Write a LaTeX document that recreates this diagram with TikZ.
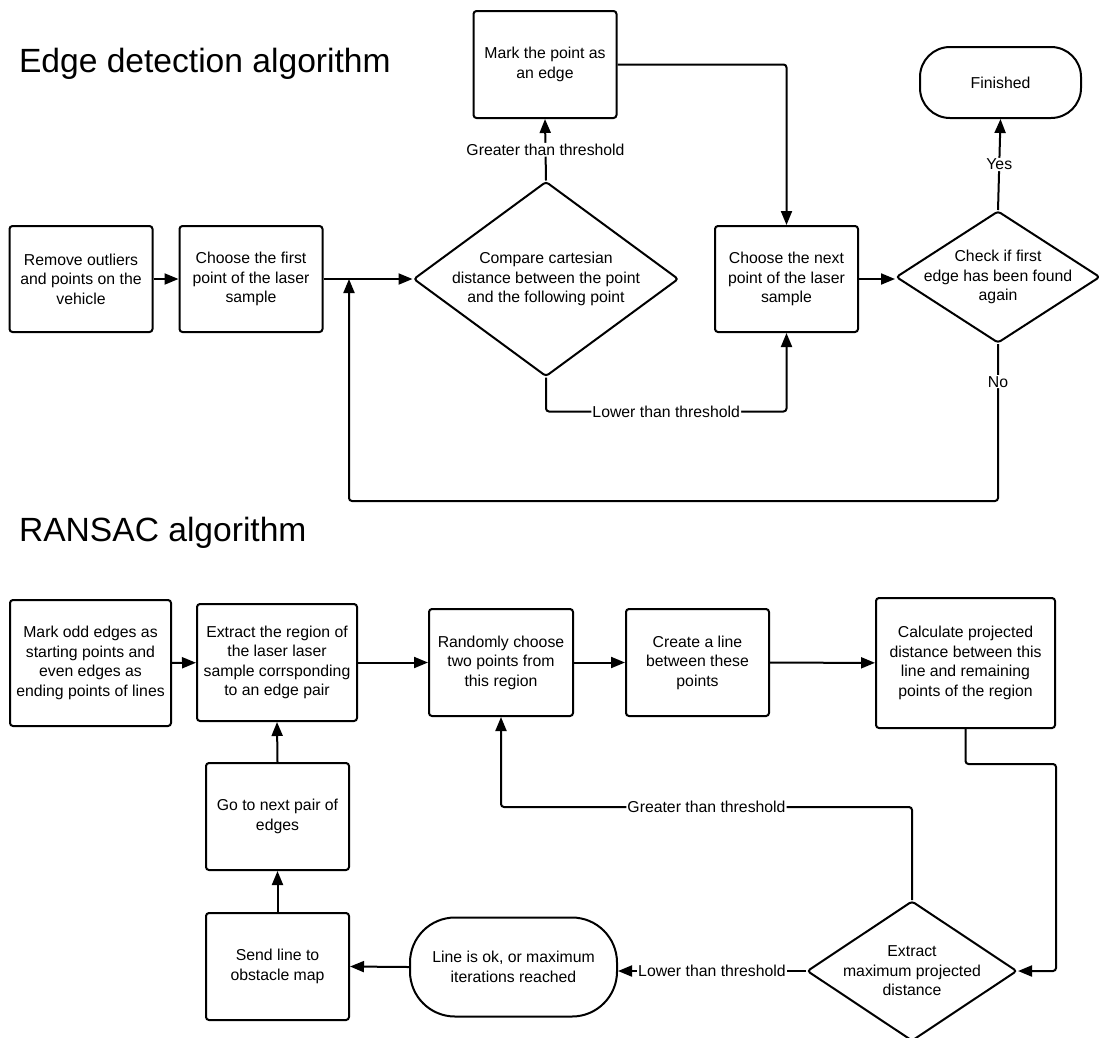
\documentclass[tikz,border=0pt]{standalone}
\usepackage{fontspec}
\setmainfont{Liberation Sans}
\usetikzlibrary{arrows.meta, shapes.geometric, calc}

\begin{document}
\begin{tikzpicture}[
        x=1pt, y=-1pt,
        box/.style={draw, align=center, font=\fontsize{15.8}{19.4}\selectfont},
        decision/.style={draw, diamond, inner sep=0pt},
        terminal/.style={draw, align=center, font=\fontsize{15.8}{19.4}\selectfont},
        txt/.style={align=center, font=\fontsize{15.8}{19.4}\selectfont},
        lbl/.style={fill=white, inner sep=1pt, font=\fontsize{15.8}{19.4}\selectfont},
        title/.style={anchor=base west, inner sep=0pt, font=\fontsize{33.6}{40}\selectfont},
        ->, >={Triangle[length=14pt, width=11pt]}, line width=2pt, rounded corners=3pt
    ]
\useasboundingbox (0,0) rectangle (1099,1037);

% Headings
\node[title] (T1) at (18,72) {Edge detection algorithm};
\node[title] (T2) at (18,541) {RANSAC algorithm};

% Edge detection: first row
\node[box, minimum width=143, minimum height=106] (R1) at (81,279) {Remove outliers\\and points on the\\vehicle};
\node[box, minimum width=143, minimum height=106] (C1) at (251,279) {Choose the first\\point of the laser\\sample};
\node[decision, minimum width=265, minimum height=195,
      label={[txt]center:Compare cartesian\\distance between the point\\and the following point}] (D1) at (546,279) {};
\node[box, minimum width=143, minimum height=107] (M1) at (545,64.5) {Mark the point as\\an edge};
\node[box, minimum width=143, minimum height=106] (N1) at (786.5,279) {Choose the next\\point of the laser\\sample};
\node[decision, minimum width=204, minimum height=132,
      label={[txt]center:Check if first\\edge has been found\\again}] (D2) at (998,277) {};
\node[terminal, rounded corners=30pt, minimum width=161, minimum height=71] (F1) at (1000.5,82.5) {Finished};

% Junction where the loop joins again
\coordinate (J1) at (349,279);

% Edge detection connectors
\draw (R1) -- (C1);
\draw (C1.east) -- (D1.west);
\draw (D1.north) -- node[lbl] {Greater than threshold} (M1.south);
\draw (M1.east) -| (N1.north);
\draw (D1.south) -- ++(0,34) -| node[lbl, pos=0.25] {Lower than threshold} (N1.south);
\draw (N1.east) -- (N1.east -| D2.west);
\draw (D2.north) -- node[lbl] {Yes} (F1.south);
\draw (D2.south) -- node[lbl, pos=0.24] {No} ++(0,157) -| (J1);

% RANSAC: top row
\node[box, minimum width=161, minimum height=126] (A1) at (90.5,663) {Mark odd edges as\\starting points and\\even edges as\\ending points of lines};
\node[box, minimum width=160, minimum height=117] (A2) at (277,662.5) {Extract the region of\\the laser laser\\sample corrsponding\\to an edge pair};
\node[box, minimum width=144, minimum height=107] (A3) at (501,662.5) {Randomly choose\\two points from\\this region};
\node[box, minimum width=143, minimum height=107] (A4) at (697.5,662.5) {Create a line\\between these\\points};
\node[box, minimum width=179, minimum height=130] (A5) at (965.5,663) {Calculate projected\\distance between this\\line and remaining\\points of the region};

% RANSAC: lower part
\node[box, minimum width=143, minimum height=107] (G1) at (277.5,816.5) {Go to next pair of\\edges};
\node[box, minimum width=143, minimum height=107] (S1) at (277.5,966.5) {Send line to\\obstacle map};
\node[terminal, rounded corners=45pt, minimum width=207, minimum height=99] (L1) at (513.5,967) {Line is ok, or maximum\\iterations reached};
\node[decision, minimum width=210, minimum height=140,
      label={[txt]center:Extract\\maximum projected\\distance}] (D3) at (912,971) {};

% RANSAC connectors
\draw (A1) -- (A2);
\draw (A2) -- (A3);
\draw (A3) -- (A4);
\draw (A4) -- (A5);
\draw (A5.south) -- ++(0,35) -| ($(D3.east)+(38,0)$) -- (D3.east);
\draw (D3.north) -- ++(0,-93) -| node[lbl, pos=0.25] {Greater than threshold} (A3.south);
\draw (D3.west) -- node[lbl] {Lower than threshold} (D3.west -| L1.east);
\draw (L1.west) -- (S1.east);
\draw (S1.north) -- (G1.south);
\draw (G1.north) -- (A2.south);
\end{tikzpicture}
\end{document}
